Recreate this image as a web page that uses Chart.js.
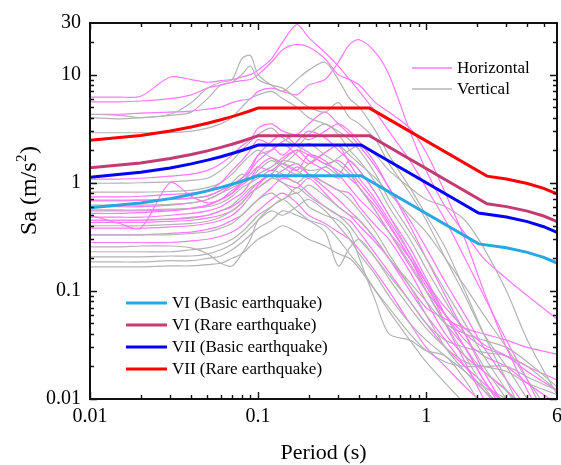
<!DOCTYPE html>
<html>
<head>
<meta charset="utf-8">
<script src="https://cdn.jsdelivr.net/npm/chart.js@4/dist/chart.umd.min.js"></script>
<style>
  html, body { margin: 0; padding: 0; background: #fff; }
  #wrap { width: 561px; height: 465px; position: relative; }
</style>
</head>
<body>
<div id="wrap"><canvas id="c" width="561" height="465"></canvas></div>
<script>
// ---------- data ----------
const periods = [0.01,0.015,0.02,0.03,0.04,0.05,0.06,0.07,0.08,0.09,0.1,0.12,0.14,0.17,0.2,0.25,0.3,0.35,0.4,0.5,0.6,0.8,1,1.3,1.7,2.2,3,4,6];

const horizontalRecords = [
  [6.2,6.2,6.3,9.5,9.0,8.5,8.8,9.0,9.5,10,11,14,20,29,22,16,12,9,7,4.5,3.0,1.6,0.9,0.45,0.2,0.09,0.035,0.015,0.004],
  [5.6,5.6,5.7,6.0,6.5,7.5,8.0,8.5,8.8,9,10,13,17,19,18,14,10,9,8,5.5,4.5,3.2,1.9,0.8,0.3,0.1,0.03,0.012,0.004],
  [4.3,4.3,4.4,4.5,4.6,4.8,5.0,5.5,5.8,6,7,7.5,7,6.5,8,9,13,19,21,16,10,3.0,1.3,0.6,0.34,0.2,0.13,0.09,0.055],
  [1.08,1.08,1.1,1.15,1.2,1.3,1.5,1.8,2.2,2.5,3.2,3.5,3.0,2.8,3.5,4.5,3.5,2.8,2.2,1.4,0.9,0.4,0.2,0.09,0.04,0.018,0.008,0.004,0.001],
  [0.74,0.74,0.75,0.78,0.8,0.85,1.0,1.3,1.6,2.0,2.5,2.2,1.8,2.4,3.0,2.6,2.0,1.6,1.3,0.8,0.5,0.25,0.13,0.06,0.03,0.015,0.007,0.003,0.001],
  [0.68,0.68,0.69,0.7,0.72,0.75,0.85,0.95,1.1,1.4,1.8,2.0,2.3,1.8,1.5,1.9,2.2,1.5,1.1,0.7,0.45,0.22,0.12,0.05,0.022,0.01,0.004,0.002,0.001],
  [0.5,0.42,0.38,1.0,0.75,0.65,0.7,0.8,1.0,1.2,1.4,1.3,1.6,2.0,1.6,1.3,1.1,1.2,0.9,0.6,0.4,0.2,0.1,0.05,0.03,0.015,0.008,0.004,0.002],
  [0.52,0.52,0.53,0.55,0.58,0.62,0.7,0.8,0.95,1.1,1.4,1.7,1.5,1.3,1.8,1.6,1.2,0.9,0.7,0.5,0.35,0.2,0.12,0.07,0.045,0.032,0.025,0.018,0.012],
  [0.48,0.48,0.48,0.5,0.52,0.55,0.6,0.7,0.8,1.0,1.2,1.4,1.7,2.0,1.8,1.5,1.3,1.1,0.9,0.55,0.35,0.17,0.1,0.06,0.035,0.025,0.02,0.014,0.009],
  [0.45,0.45,0.45,0.46,0.48,0.5,0.55,0.6,0.7,0.85,1.0,1.2,1.1,1.4,1.2,1.0,0.85,0.8,0.6,0.4,0.3,0.15,0.08,0.04,0.025,0.018,0.012,0.007,0.003],
  [0.43,0.43,0.43,0.44,0.45,0.47,0.5,0.55,0.65,0.8,0.9,1.1,1.3,1.5,1.2,0.9,0.7,0.55,0.45,0.3,0.2,0.1,0.06,0.035,0.02,0.012,0.007,0.004,0.002],
  [0.38,0.38,0.38,0.39,0.4,0.42,0.45,0.5,0.6,0.75,0.95,1.2,1.0,0.9,1.1,0.8,0.6,0.5,0.4,0.28,0.2,0.11,0.07,0.055,0.045,0.04,0.035,0.03,0.026],
  [0.33,0.33,0.33,0.34,0.35,0.37,0.4,0.45,0.5,0.6,0.7,0.9,1.1,1.0,0.8,0.6,0.5,0.45,0.35,0.22,0.15,0.08,0.05,0.03,0.02,0.014,0.009,0.006,0.003],
  [0.28,0.28,0.28,0.28,0.29,0.3,0.32,0.35,0.4,0.48,0.55,0.7,0.8,0.65,0.5,0.42,0.35,0.3,0.24,0.15,0.1,0.05,0.03,0.02,0.013,0.009,0.006,0.004,0.002],
  [0.6,0.6,0.6,0.62,0.65,0.7,0.8,0.95,1.1,1.3,1.6,2.0,2.4,2.8,2.5,3.0,3.5,3.0,2.4,1.5,0.9,0.45,0.25,0.12,0.06,0.03,0.015,0.008,0.003],
  [0.55,0.55,0.55,0.56,0.58,0.62,0.7,0.85,1.0,1.3,1.8,2.4,2.8,2.2,1.9,1.5,1.6,1.3,1.0,0.65,0.42,0.2,0.11,0.06,0.04,0.03,0.025,0.02,0.015]
];

const verticalRecords = [
  [4.3,4.2,4.0,4.3,5.5,7.5,8.5,9,14,15,10,8,7,9,11,13,9,6,5,3,1.8,0.9,0.5,0.25,0.1,0.04,0.015,0.006,0.002],
  [4.0,3.9,4.0,4.2,4.5,6,8,8.5,10,12,9,8,7.5,6,5,4.5,5.5,4.0,3.5,2.5,1.5,0.8,0.45,0.2,0.09,0.04,0.02,0.01,0.004],
  [2.9,2.9,2.9,2.9,3.0,3.2,3.5,4.0,5,6,6.5,7,6,5,4,3.5,3,2.5,2,1.2,0.7,0.35,0.2,0.1,0.05,0.025,0.012,0.006,0.002],
  [0.99,0.99,1.0,1.02,1.05,1.1,1.3,1.6,2.0,2.4,2.8,3.2,2.6,2.2,2.8,3.5,2.8,2.0,1.6,1.0,0.6,0.3,0.16,0.08,0.04,0.02,0.01,0.005,0.002],
  [0.82,0.82,0.82,0.83,0.85,0.9,1.0,1.2,1.5,1.8,2.0,1.7,1.5,1.9,2.3,1.8,1.5,1.2,0.9,0.55,0.35,0.18,0.1,0.05,0.025,0.013,0.007,0.004,0.002],
  [0.69,0.69,0.69,0.7,0.72,0.76,0.85,1.0,1.2,1.1,1.3,1.6,1.4,1.2,1.5,1.9,2.2,1.8,1.5,1.1,0.8,0.5,0.35,0.2,0.11,0.06,0.03,0.015,0.006],
  [0.62,0.62,0.62,0.63,0.65,0.7,0.8,0.9,1.0,1.1,1.2,1.4,1.6,1.5,1.3,1.4,1.7,2.0,2.2,1.8,1.3,0.9,0.7,0.6,0.45,0.25,0.1,0.035,0.011],
  [0.56,0.56,0.56,0.57,0.58,0.6,0.65,0.75,0.9,1.0,1.1,1.3,1.2,1.0,1.2,1.0,0.85,0.7,0.55,0.35,0.22,0.11,0.06,0.03,0.018,0.012,0.008,0.005,0.002],
  [0.40,0.40,0.40,0.41,0.42,0.44,0.48,0.55,0.65,0.8,0.9,1.1,1.0,0.8,0.95,0.75,0.6,0.5,0.45,0.3,0.2,0.12,0.08,0.05,0.04,0.035,0.03,0.022,0.013],
  [0.33,0.33,0.33,0.33,0.34,0.35,0.38,0.42,0.5,0.6,0.7,0.8,0.7,0.9,0.75,0.6,0.5,0.4,0.3,0.2,0.13,0.07,0.045,0.03,0.022,0.02,0.018,0.014,0.011],
  [0.255,0.255,0.26,0.26,0.25,0.22,0.18,0.17,0.22,0.3,0.45,0.6,0.7,0.8,0.6,0.5,0.45,0.35,0.2,0.08,0.04,0.035,0.028,0.025,0.015,0.008,0.004,0.002,0.001],
  [0.23,0.23,0.23,0.23,0.24,0.25,0.27,0.3,0.35,0.42,0.5,0.6,0.7,0.55,0.45,0.35,0.17,0.25,0.3,0.2,0.14,0.08,0.05,0.035,0.03,0.027,0.025,0.02,0.012],
  [0.206,0.206,0.206,0.21,0.21,0.22,0.24,0.27,0.32,0.38,0.45,0.55,0.5,0.6,0.7,0.55,0.4,0.3,0.22,0.14,0.09,0.05,0.035,0.025,0.018,0.013,0.01,0.007,0.004],
  [0.185,0.185,0.185,0.19,0.19,0.2,0.21,0.24,0.28,0.33,0.38,0.45,0.55,0.5,0.45,0.4,0.3,0.22,0.17,0.1,0.065,0.035,0.022,0.014,0.009,0.006,0.004,0.002,0.001],
  [0.167,0.167,0.167,0.17,0.17,0.175,0.18,0.2,0.22,0.26,0.3,0.35,0.4,0.35,0.3,0.26,0.22,0.2,0.16,0.1,0.07,0.04,0.028,0.022,0.02,0.02,0.02,0.016,0.012],
  [0.45,0.45,0.45,0.46,0.47,0.5,0.55,0.62,0.75,0.9,1.0,1.2,1.5,1.3,1.1,1.4,1.2,1.6,1.3,0.8,0.5,0.22,0.12,0.06,0.03,0.018,0.012,0.008,0.004]
];

const recordLabels = ['Horizontal', 'Vertical'];

const designLabels = ['VI (Basic earthquake)', 'VI (Rare earthquake)', 'VII (Basic earthquake)', 'VII (Rare earthquake)'];
const designPeriodsBasic = [0.01,0.02,0.03,0.04,0.05,0.06,0.07,0.08,0.09,0.1,0.41,2.05,3,4,5,6];
const designPeriodsRare  = [0.01,0.02,0.03,0.04,0.05,0.06,0.07,0.08,0.09,0.1,0.46,2.3,3,4,5,6];
const sixBasic   = [0.586,0.650,0.713,0.777,0.841,0.905,0.969,1.032,1.096,1.16,1.16,0.272,0.250,0.227,0.204,0.181];
const sixRare    = [1.374,1.523,1.673,1.822,1.972,2.122,2.271,2.421,2.570,2.72,2.72,0.639,0.601,0.546,0.492,0.438];
const sevenBasic = [1.126,1.249,1.371,1.494,1.617,1.739,1.862,1.985,2.107,2.23,2.23,0.524,0.481,0.437,0.392,0.348];
const sevenRare  = [2.47,2.74,3.01,3.28,3.55,3.82,4.09,4.36,4.63,4.90,4.90,1.151,1.082,0.984,0.886,0.788];

const xTickValues = [0.01, 0.1, 1, 6];
const xTickLabels = ['0.01', '0.1', '1', '6'];
const yTickValues = [0.01, 0.1, 1, 10, 30];
const yTickLabels = ['0.01', '0.1', '1', '10', '30'];
const xMinor = [0.02,0.03,0.04,0.05,0.06,0.07,0.08,0.09,0.2,0.3,0.4,0.5,0.6,0.7,0.8,0.9,2,3,4,5];
const xMajor = [0.01,0.1,1];
const yMinor = [0.02,0.03,0.04,0.05,0.06,0.07,0.08,0.09,0.2,0.3,0.4,0.5,0.6,0.7,0.8,0.9,2,3,4,5,6,7,8,9,20];
const yMajor = [0.01,0.1,1,10];

// ---------- styles ----------
const FONT = 'Liberation Serif';
const PINK = '#ff78ff';
const GRAY = '#b4b4b4';
const designColors = ['#29a8e0', '#c43a73', '#0000ff', '#ff0000'];

const toPts = (xs, ys) => xs.map((x, i) => ({ x: x, y: ys[i] }));

const datasets = [];
const designSeries = [
  [designPeriodsBasic, sixBasic],
  [designPeriodsRare, sixRare],
  [designPeriodsBasic, sevenBasic],
  [designPeriodsRare, sevenRare]
];
designSeries.forEach((s, i) => {
  datasets.push({
    label: designLabels[i],
    data: toPts(s[0], s[1]),
    borderColor: designColors[i],
    borderWidth: 3,
    pointRadius: 0,
    tension: 0,
    fill: false,
    isDesign: true
  });
});
const nRec = Math.max(horizontalRecords.length, verticalRecords.length);
for (let i = 0; i < nRec; i++) {
  if (horizontalRecords[i]) datasets.push({
    label: recordLabels[0], data: toPts(periods, horizontalRecords[i]),
    borderColor: PINK, borderWidth: 1.2, pointRadius: 0, tension: 0.3, fill: false
  });
  if (verticalRecords[i]) datasets.push({
    label: recordLabels[1], data: toPts(periods, verticalRecords[i]),
    borderColor: GRAY, borderWidth: 1.2, pointRadius: 0, tension: 0.3, fill: false
  });
}

const framePlugin = {
  id: 'frame',
  afterDraw(chart) {
    const ctx = chart.ctx;
    const a = chart.chartArea;
    const xs = chart.scales.x, ys = chart.scales.y;
    ctx.save();
    ctx.strokeStyle = '#111';
    // ticks
    ctx.lineWidth = 1.4;
    ctx.beginPath();
    const vt = (v, len) => {
      const px = Math.round(xs.getPixelForValue(v)) + 0.5;
      ctx.moveTo(px, a.bottom); ctx.lineTo(px, a.bottom - len);
      ctx.moveTo(px, a.top); ctx.lineTo(px, a.top + len);
    };
    const ht = (v, len) => {
      const py = Math.round(ys.getPixelForValue(v)) + 0.5;
      ctx.moveTo(a.left, py); ctx.lineTo(a.left + len, py);
      ctx.moveTo(a.right, py); ctx.lineTo(a.right - len, py);
    };
    xMinor.forEach(v => vt(v, 4));
    xMajor.forEach(v => vt(v, 7));
    yMinor.forEach(v => ht(v, 4));
    yMajor.forEach(v => ht(v, 7));
    ctx.stroke();
    // frame
    ctx.lineWidth = 2;
    ctx.strokeRect(a.left, a.top, a.right - a.left, a.bottom - a.top);

    // y-axis title with superscript
    ctx.fillStyle = '#000';
    ctx.translate(30, 191);
    ctx.rotate(-Math.PI / 2);
    ctx.textBaseline = 'middle';
    ctx.textAlign = 'left';
    const big = '24px "' + FONT + '"', small = '15px "' + FONT + '"';
    const parts = ['Sa (m/s', '2', ')'];
    ctx.font = big; const w1 = ctx.measureText(parts[0]).width;
    ctx.font = small; const w2 = ctx.measureText(parts[1]).width;
    ctx.font = big; const w3 = ctx.measureText(parts[2]).width;
    let sx = -(w1 + w2 + w3) / 2;
    ctx.font = big; ctx.fillText(parts[0], sx, 0); sx += w1;
    ctx.font = small; ctx.fillText(parts[1], sx + 0.5, -8); sx += w2 + 1;
    ctx.font = big; ctx.fillText(parts[2], sx, 0);
    ctx.restore();

    // legends
    ctx.save();
    ctx.font = '17px "' + FONT + '"';
    ctx.fillStyle = '#000';
    ctx.textBaseline = 'middle';
    ctx.textAlign = 'left';
    const recColors = [PINK, GRAY];
    recordLabels.forEach((lab, i) => {
      const y = 68 + i * 21;
      ctx.strokeStyle = recColors[i]; ctx.lineWidth = 1.5;
      ctx.beginPath(); ctx.moveTo(412, y); ctx.lineTo(452, y); ctx.stroke();
      ctx.fillText(lab, 457, y + 1);
    });
    designLabels.forEach((lab, i) => {
      const y = 303 + i * 22;
      ctx.strokeStyle = designColors[i]; ctx.lineWidth = 3;
      ctx.beginPath(); ctx.moveTo(126, y); ctx.lineTo(167, y); ctx.stroke();
      ctx.fillText(lab, 172, y + 1);
    });
    ctx.restore();
  }
};

new Chart(document.getElementById('c'), {
  type: 'line',
  data: { datasets: datasets },
  options: {
    responsive: false,
    animation: false,
    events: [],
    layout: { padding: { left: 0, right: 4, top: 23, bottom: 0 } },
    plugins: { legend: { display: false }, tooltip: { enabled: false } },
    scales: {
      x: {
        type: 'logarithmic', min: 0.01, max: 6,
        grid: { display: false, drawTicks: false },
        border: { display: false },
        ticks: {
          autoSkip: false, maxRotation: 0, minRotation: 0, padding: 6,
          color: '#000', font: { family: FONT, size: 20 },
          callback: (v) => { const i = xTickValues.indexOf(v); return i >= 0 ? xTickLabels[i] : ''; }
        },
        afterBuildTicks: (s) => { s.ticks = xTickValues.map(v => ({ value: v })); },
        afterFit: (s) => { s.height = 66; s.paddingLeft = 0; s.paddingRight = 0; },
        title: { display: true, text: 'Period (s)', color: '#000',
                 font: { family: FONT, size: 22, lineHeight: 1.0 }, padding: { top: 0, bottom: 1 } }
      },
      y: {
        type: 'logarithmic', min: 0.01, max: 30,
        grid: { display: false, drawTicks: false },
        border: { display: false },
        ticks: {
          autoSkip: false, padding: 9,
          color: '#000', font: { family: FONT, size: 20 },
          callback: (v) => { const i = yTickValues.indexOf(v); return i >= 0 ? yTickLabels[i] : ''; }
        },
        afterBuildTicks: (s) => { s.ticks = yTickValues.map(v => ({ value: v })); },
        afterFit: (s) => { s.width = 90; s.paddingTop = 0; s.paddingBottom = 0; }
      }
    }
  },
  plugins: [framePlugin]
});
</script>
</body>
</html>
